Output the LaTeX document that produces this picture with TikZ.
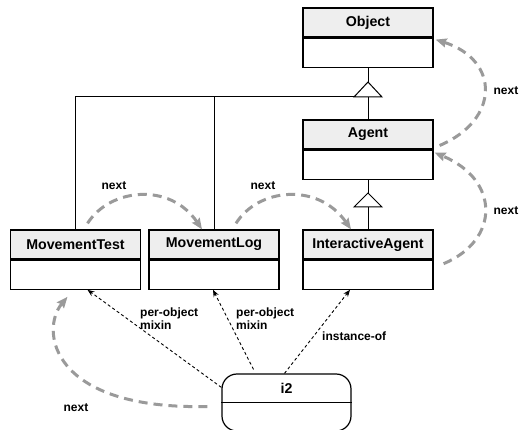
\documentclass[tikz,border=0pt]{standalone}
\usepackage{fontspec}
\setmainfont{Liberation Sans}
\usetikzlibrary{arrows.meta,calc}
\definecolor{hdrgray}{HTML}{EEEEEE}
\definecolor{linkgray}{HTML}{9A9A9A}

\begin{document}
\begin{tikzpicture}[x=1pt,y=-1pt,
  hdr/.style={draw, fill=hdrgray, line width=1.2pt, minimum width=130pt,
    minimum height=29pt, inner sep=0pt, font=\fontsize{14.2}{16}\selectfont\bfseries},
  cbody/.style={draw, line width=1.2pt, minimum width=130pt, minimum height=29pt, inner sep=0pt},
  gen/.style={line width=1pt},
  assoc/.style={line width=0.9pt, dash pattern=on 3pt off 2.5pt,
    -{Stealth[length=7pt,width=5.5pt]}},
  nextlink/.style={draw=linkgray, line width=3pt, dash pattern=on 9pt off 6pt,
    -{Stealth[length=11pt,width=9pt,inset=1.5pt,fill=linkgray]}},
  lbl/.style={font=\fontsize{12}{11}\selectfont\bfseries, inner sep=0pt, align=left}
]
\useasboundingbox (0,0) rectangle (520,430);

% classes
\node[hdr] (objH) at (368,22.5) {Object};
\node[cbody, anchor=north] (objB) at (objH.south) {};
\node[hdr] (agH) at (368,134.5) {Agent};
\node[cbody, anchor=north] (agB) at (agH.south) {};
\node[hdr] (mtH) at (75.5,244.5) {MovementTest};
\node[cbody, anchor=north] (mtB) at (mtH.south) {};
\node[hdr] (mlH) at (214,244.5) {MovementLog};
\node[cbody, anchor=north] (mlB) at (mlH.south) {};
\node[hdr] (iaH) at (368,244.5) {InteractiveAgent};
\node[cbody, anchor=north] (iaB) at (iaH.south) {};

% instance
\node[draw, line width=1.2pt, rounded corners=15pt, minimum width=129pt,
  minimum height=57pt, inner sep=0pt] (i2) at (286.5,402.5) {};
\node[font=\fontsize{14.2}{16}\selectfont\bfseries] (i2name) at (286.5,388.5) {i2};
\draw[line width=1.2pt] (i2.west) -- (i2.east);

% generalization: Object <- Agent, MovementTest, MovementLog
\coordinate (apex1) at (368,82);
\coordinate (base1) at (368,97);
\coordinate (base1L) at (354,97);
\draw[gen] (objB.south) -- (apex1);
\draw[gen] (base1) -- (agH.north);
\draw[gen] (base1L) -| (mtH.north);
\draw[gen] (mlH.north) -- (mlH.north |- base1L);
\draw[gen, fill=white] (apex1) -- ++(14,15) -- ++(-28,0) -- cycle;

% generalization: Agent <- InteractiveAgent
\coordinate (apex2) at (368,193);
\coordinate (base2) at (368,207);
\draw[gen] (agB.south) -- (apex2);
\draw[gen] (base2) -- (iaH.north);
\draw[gen, fill=white] (apex2) -- ++(14,14) -- ++(-28,0) -- cycle;

% mixin / instance-of links
\draw[assoc] ($(i2.north west)+(0,14)$) -- ($(mtB.south)+(12,0)$);
\draw[assoc] ($(i2.north)+(-33,-4)$) -- ($(mlB.south)+(-1,0)$);
\draw[assoc] ($(i2.north)+(-2,0)$) -- ($(iaB.south)+(-18,0)$);
\node[lbl, anchor=north west] (l1) at (140,308) {per-object\\mixin};
\node[lbl, anchor=north west] (l2) at (236,308) {per-object\\mixin};
\node[lbl, anchor=west] (l3) at (322,336) {instance-of};

% next chain
\draw[nextlink] ($(i2.west)+(-14,4)$) .. controls (50,410) and (40,330) .. ($(mtB.south)+(-8,7)$);
\node[lbl] (n1) at (76,408) {next};
\draw[nextlink] ($(mtH.north)+(12,-6)$) .. controls (110,188) and (170,182) .. ($(mlH.north)+(-12,0)$);
\node[lbl] (n2) at (114,186) {next};
\draw[nextlink] ($(mlH.north)+(22,-6)$) .. controls (258,188) and (318,182) .. ($(iaH.north)+(-17,0)$);
\node[lbl] (n3) at (263,186) {next};
\draw[nextlink] ($(iaB.east)+(10,-11)$) .. controls (500,240) and (500,180) .. ($(agB.north east)+(1,3)$);
\node[lbl] (n4) at (506,211) {next};
\draw[nextlink] ($(agH.east)+(6,11)$) .. controls (500,120) and (500,60) .. ($(objB.north east)+(2,2)$);
\node[lbl] (n5) at (506,91) {next};
\end{tikzpicture}
\end{document}
